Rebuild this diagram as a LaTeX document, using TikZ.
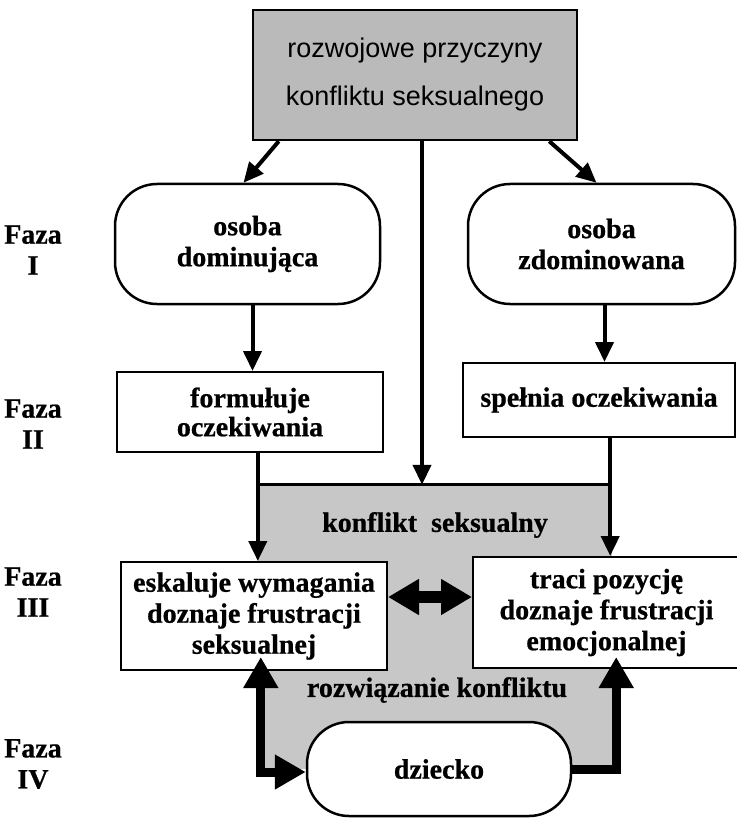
\documentclass[tikz,border=0pt]{standalone}
\usepackage{fontspec}
\setmainfont{Liberation Serif}[BoldFeatures={FakeBold=0.7}]
\setsansfont{Liberation Sans}
\usepackage{xcolor}
\usetikzlibrary{arrows.meta}

\begin{document}
\begin{tikzpicture}
[x=1pt, y=-1pt,
 RootNode/.style={rectangle,
    draw=black, fill=black!27, line width=2.5pt,
    minimum width=324pt, minimum height=130pt, align=center,
    font=\sffamily\fontsize{27}{48}\selectfont},
 OvalNode/.style={rectangle, rounded corners=42pt,
    draw=black, fill=white, line width=2.5pt,
    minimum width=265pt, minimum height=120pt, align=center,
    font=\bfseries\fontsize{28}{31}\selectfont},
 BoxNode/.style={rectangle,
    draw=black, fill=white, line width=2pt,
    minimum width=266pt, align=center,
    font=\bfseries\fontsize{28}{31}\selectfont},
 PhaseNode/.style={align=center,
    font=\bfseries\fontsize{28}{31}\selectfont},
 TextNode/.style={font=\bfseries\fontsize{28}{32}\selectfont},
 ThinArrow/.style={line width=4pt, -{Triangle[length=20pt, width=18pt]}},
 FatHead/.tip={Triangle[length=31pt, width=33pt]},
 FatArrow/.style={line width=9pt}]
\useasboundingbox (0,0) rectangle (736,821);

% shaded zone of the conflict
\node[rectangle, fill=black!22, minimum width=354pt, minimum height=284pt] (zone) at (435,627) {};
\draw[line width=3pt] (zone.north west) -- (zone.north east);
\node[TextNode] (conflict) at (435,525) {konflikt\ \ seksualny};
\node[TextNode] (resolve) at (437,690) {rozwiązanie konfliktu};

\node[RootNode] (cause) at (415,75) {rozwojowe przyczyny\\konfliktu seksualnego};
\node[OvalNode] (dom) at (247.5,244) {osoba\\dominująca};
\node[OvalNode, minimum width=267pt] (sub) at (601.5,244) {osoba\\zdominowana};
\node[BoxNode, minimum height=80pt, font=\bfseries\fontsize{28}{29}\selectfont] (form) at (250,412) {formułuje\\oczekiwania};
\node[BoxNode, minimum width=272pt, minimum height=74pt] (meet) at (599,400) {spełnia oczekiwania};
\node[BoxNode, minimum width=266pt, minimum height=108pt] (esc) at (254,616) {eskaluje wymagania\\doznaje frustracji\\seksualnej};
\node[BoxNode, minimum width=267pt, minimum height=111pt] (lose) at (606.5,612.5) {traci pozycję\\doznaje frustracji\\emocjonalnej};
\node[OvalNode, minimum width=264pt, minimum height=94pt] (child) at (439,769) {dziecko};

\foreach \p/\y in {I/250, II/424, III/592, IV/764}
    \node[PhaseNode] (faza_\p) at (33,\y) {Faza\\\p};

% phase I and II
\draw[ThinArrow] ([xshift=27pt]cause.south west) -- ([xshift=-4pt]dom.north);
\draw[ThinArrow] ([xshift=-29pt]cause.south east) -- ([xshift=-5pt]sub.north);
\draw[ThinArrow] ([xshift=7pt]cause.south) -- ([xshift=7pt]cause.south |- zone.north);
\draw[ThinArrow] ([xshift=5pt]dom.south) -- ([xshift=5pt]dom.south |- form.north);
\draw[ThinArrow] ([xshift=3pt]sub.south) -- ([xshift=3pt]sub.south |- meet.north);
\draw[ThinArrow] (zone.west |- form.south) -- (zone.west |- esc.north);
\draw[ThinArrow] ([xshift=-2pt]zone.east |- meet.south) -- ([xshift=-2pt]zone.east |- lose.north);

% phase III and IV
\draw[line width=12pt, {Triangle[length=31pt, width=34pt]}-{Triangle[length=31pt, width=34pt]}]
    ([yshift=19pt]esc.east) -- ([yshift=19pt]esc.east -| lose.west);
\draw[FatArrow, {FatHead}-{FatHead}]
    ([yshift=-3pt]child.west) -| ([xshift=3pt, yshift=14pt]zone.west |- esc.south);
\draw[FatArrow, -{FatHead}]
    (child.east) -| ([xshift=4pt, yshift=12pt]zone.east |- lose.south);
\end{tikzpicture}
\end{document}
